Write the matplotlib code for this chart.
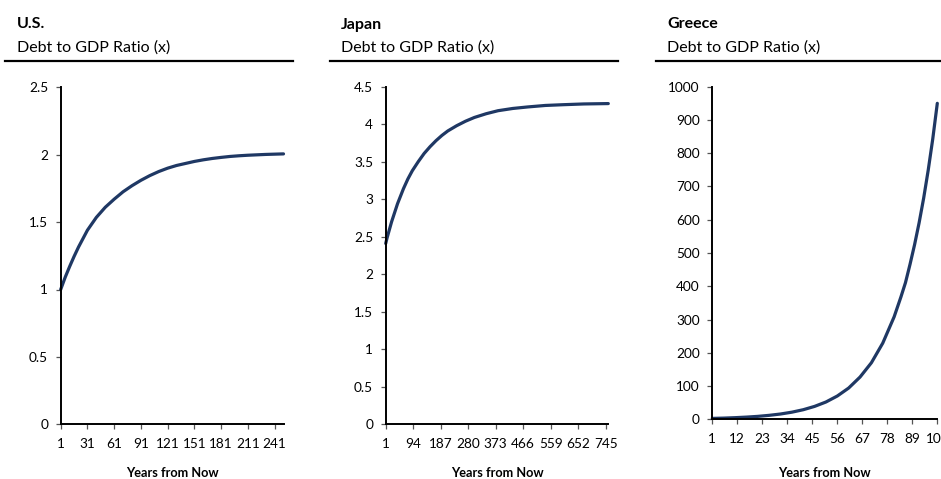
import matplotlib
matplotlib.use("Agg")
import matplotlib.pyplot as plt
from matplotlib.lines import Line2D

plt.rcParams['font.family'] = ['Lato', 'DejaVu Sans']

# values (year index -> debt/GDP multiple)
us_years = [1, 6, 11, 16, 21, 31, 41, 51, 61, 71, 81, 91, 101, 111, 121, 131,
            141, 151, 161, 171, 181, 191, 201, 211, 221, 231, 241, 251]
us_debt = [1.00, 1.09, 1.17, 1.245, 1.315, 1.44, 1.535, 1.61, 1.67, 1.725, 1.77,
           1.81, 1.845, 1.875, 1.90, 1.92, 1.935, 1.95, 1.962, 1.972, 1.98,
           1.987, 1.992, 1.996, 1.999, 2.002, 2.004, 2.006]

jp_years = [1, 6, 11, 21, 31, 41, 51, 61, 76, 91, 111, 131, 151, 171, 191, 211,
            241, 271, 301, 341, 381, 431, 481, 541, 601, 671, 754]
jp_debt = [2.41, 2.49, 2.56, 2.70, 2.82, 2.94, 3.04, 3.14, 3.27, 3.38, 3.50,
           3.61, 3.70, 3.78, 3.85, 3.91, 3.98, 4.04, 4.09, 4.14, 4.18, 4.21,
           4.23, 4.25, 4.26, 4.27, 4.275]

gr_years = [1, 6, 11, 16, 21, 26, 31, 36, 41, 46, 51, 56, 61, 66, 71, 76, 81,
            84, 86, 88, 90, 92, 94, 96, 98, 100]
gr_debt = [2.7, 3.6, 4.9, 6.6, 8.8, 11.9, 15.9, 21.4, 28.8, 38.8, 52, 70, 94,
           127, 170, 229, 308, 368, 411, 466, 525, 591, 665, 749, 843, 950]

us_ticks = [1, 31, 61, 91, 121, 151, 181, 211, 241]
jp_ticks = [1, 94, 187, 280, 373, 466, 559, 652, 745]
gr_ticks = [1, 12, 23, 34, 45, 56, 67, 78, 89, 100]

W, H = 941, 479
fig = plt.figure(figsize=(W / 100, H / 100), dpi=100)
navy = '#1f3864'


def px_axes(x0, x1, ytop, ybot):
    return fig.add_axes([x0 / W, (H - ybot) / H, (x1 - x0) / W, (ybot - ytop) / H])


panels = [
    ("U.S.", 17, 5, 293, (60.7, 283.5, 87.3, 424.3), us_years, us_debt, us_ticks,
     (0, 2.5), [0, 0.5, 1, 1.5, 2, 2.5], ['0', '0.5', '1', '1.5', '2', '2.5']),
    ("Japan", 341, 330, 618, (385.7, 608.3, 86.7, 424.3), jp_years, jp_debt, jp_ticks,
     (0, 4.5), [0, 0.5, 1, 1.5, 2, 2.5, 3, 3.5, 4, 4.5],
     ['0', '0.5', '1', '1.5', '2', '2.5', '3', '3.5', '4', '4.5']),
    ("Greece", 667, 656, 941, (712.3, 937.3, 86.7, 419.3), gr_years, gr_debt, gr_ticks,
     (0, 1000), list(range(0, 1001, 100)), [str(v) for v in range(0, 1001, 100)]),
]

for name, tx, lx0, lx1, rect, xs, ys, xt, ylim, yt, ytl in panels:
    fig.text(tx / W, 1 - 28.5 / H, name, fontsize=11.5, fontweight='bold',
             va='baseline', ha='left')
    fig.text(tx / W, 1 - 51.5 / H, "Debt to GDP Ratio (x)", fontsize=11.5,
             va='baseline', ha='left')
    fig.add_artist(Line2D([lx0 / W, lx1 / W], [1 - 60.7 / H, 1 - 60.7 / H],
                          transform=fig.transFigure, color='black', lw=1.6))

    ax = px_axes(*rect)
    ax.plot(xs, ys, color=navy, lw=2.3, solid_capstyle='round', clip_on=False)
    ax.set_xlim(xs[0], xs[-1])
    ax.set_ylim(*ylim)
    ax.set_xticks(xt)
    ax.set_xticklabels([str(v) for v in xt])
    ax.set_yticks(yt)
    ax.set_yticklabels(ytl)
    for s in ['top', 'right']:
        ax.spines[s].set_visible(False)
    for s in ['left', 'bottom']:
        ax.spines[s].set_linewidth(1.4)
        ax.spines[s].set_color('black')
    ax.tick_params(axis='both', direction='out', length=3.6, width=0.9, color='#555555',
                   labelsize=9.8)
    ax.tick_params(axis='x', pad=6)
    ax.tick_params(axis='y', pad=5.5)
    ax.set_xlabel("Years from Now", fontsize=9.2, fontweight='bold')
    ax.xaxis.label.set_va('baseline')
    ax.xaxis.set_label_coords(0.5, -(477 - rect[3]) / (rect[3] - rect[2]))

fig.savefig("out.png", dpi=100)
